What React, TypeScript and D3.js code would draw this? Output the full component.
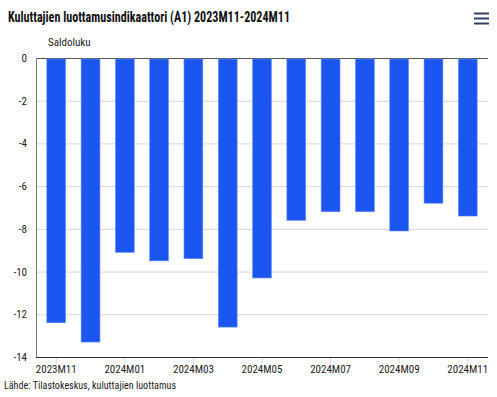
import React, { useRef, useEffect } from 'react';
import * as d3 from 'd3';

const months = [
  '2023M11', '2023M12', '2024M01', '2024M02', '2024M03', '2024M04', '2024M05',
  '2024M06', '2024M07', '2024M08', '2024M09', '2024M10', '2024M11',
];
const values = [-12.4, -13.3, -9.1, -9.5, -9.4, -12.6, -10.3, -7.6, -7.2, -7.2, -8.1, -6.8, -7.4];
const yTicks = [0, -2, -4, -6, -8, -10, -12, -14];

const FONT = '"Liberation Sans Narrow", "Roboto Condensed", Roboto, sans-serif';
const BAR = '#1a56ef';

export default function App() {
  const ref = useRef<SVGSVGElement | null>(null);

  useEffect(() => {
    const svg = d3.select(ref.current);
    svg.selectAll('*').remove();

    const W = 497, H = 397;
    const margin = { top: 58, right: 9, bottom: 40, left: 36 };
    const height = H - margin.top - margin.bottom;

    const x = d3.scaleBand()
      .domain(months)
      .range([margin.left, W - margin.right])
      .paddingInner(0.45)
      .paddingOuter(0.315);

    const y = d3.scaleLinear()
      .domain([-14, 0])
      .range([margin.top + height, margin.top]);

    // grid
    svg.append('g')
      .selectAll('line')
      .data(yTicks)
      .join('line')
      .attr('x1', margin.left)
      .attr('x2', W - margin.right)
      .attr('y1', d => y(d) + 0.5)
      .attr('y2', d => y(d) + 0.5)
      .attr('stroke', d => (d === 0 ? '#555' : '#d6d6d6'))
      .attr('stroke-width', 1);

    // bars
    svg.append('g')
      .selectAll('rect')
      .data(values)
      .join('rect')
      .attr('x', (_, i) => x(months[i])!)
      .attr('y', y(0) + 1)
      .attr('width', x.bandwidth())
      .attr('height', d => y(d) - y(0) - 1)
      .attr('fill', BAR)
      .attr('stroke', '#6d8ff5')
      .attr('stroke-width', 0.6);

    // y axis line
    svg.append('line')
      .attr('x1', margin.left + 0.5)
      .attr('x2', margin.left + 0.5)
      .attr('y1', y(0))
      .attr('y2', y(-14))
      .attr('stroke', '#777');

    // x axis line
    svg.append('line')
      .attr('x1', margin.left)
      .attr('x2', W - margin.right)
      .attr('y1', y(-14) + 0.5)
      .attr('y2', y(-14) + 0.5)
      .attr('stroke', '#333');

    // y tick labels
    svg.append('g')
      .selectAll('text')
      .data(yTicks)
      .join('text')
      .attr('x', 27)
      .attr('y', d => y(d) + 4)
      .attr('text-anchor', 'end')
      .attr('font-family', FONT)
      .attr('font-size', 11)
      .attr('fill', '#222')
      .text(d => String(d));

    // x ticks + labels (every other month)
    const shown = months.filter((_, i) => i % 2 === 0);
    const xa = svg.append('g');
    xa.selectAll('line')
      .data(shown)
      .join('line')
      .attr('x1', d => x(d)! + x.bandwidth() / 2)
      .attr('x2', d => x(d)! + x.bandwidth() / 2)
      .attr('y1', y(-14) + 1)
      .attr('y2', y(-14) + 7)
      .attr('stroke', '#ccd6eb');
    xa.selectAll('text')
      .data(shown)
      .join('text')
      .attr('x', d => x(d)! + x.bandwidth() / 2)
      .attr('y', y(-14) + 16)
      .attr('text-anchor', 'middle')
      .attr('font-family', FONT)
      .attr('font-size', 11)
      .attr('fill', '#222')
      .text(d => d);

    // axis title
    svg.append('text')
      .attr('x', 48)
      .attr('y', 46)
      .attr('font-family', FONT)
      .attr('font-size', 11)
      .attr('fill', '#222')
      .text('Saldoluku');

    // title
    svg.append('text')
      .attr('x', 8)
      .attr('y', 22)
      .attr('font-family', FONT)
      .attr('font-size', 14)
      .attr('font-weight', 'bold')
      .attr('fill', '#111')
      .attr('textLength', 282)
      .attr('lengthAdjust', 'spacingAndGlyphs')
      .text('Kuluttajien luottamusindikaattori (A1) 2023M11-2024M11');

    // menu icon
    svg.append('g')
      .selectAll('line')
      .data([0, 1, 2])
      .join('line')
      .attr('x1', 474)
      .attr('x2', 489)
      .attr('y1', d => 13.5 + d * 5)
      .attr('y2', d => 13.5 + d * 5)
      .attr('stroke', '#2c3e6b')
      .attr('stroke-width', 2);

    // source
    svg.append('text')
      .attr('x', 4)
      .attr('y', 389)
      .attr('font-family', FONT)
      .attr('font-size', 11)
      .attr('fill', '#222')
      .attr('textLength', 172)
      .attr('lengthAdjust', 'spacingAndGlyphs')
      .text('Lähde: Tilastokeskus, kuluttajien luottamus');
  }, []);

  return (
    <svg
      ref={ref}
      width={497}
      height={397}
      style={{ position: 'absolute', left: 0, top: 0, background: '#fff' }}
    />
  );
}
